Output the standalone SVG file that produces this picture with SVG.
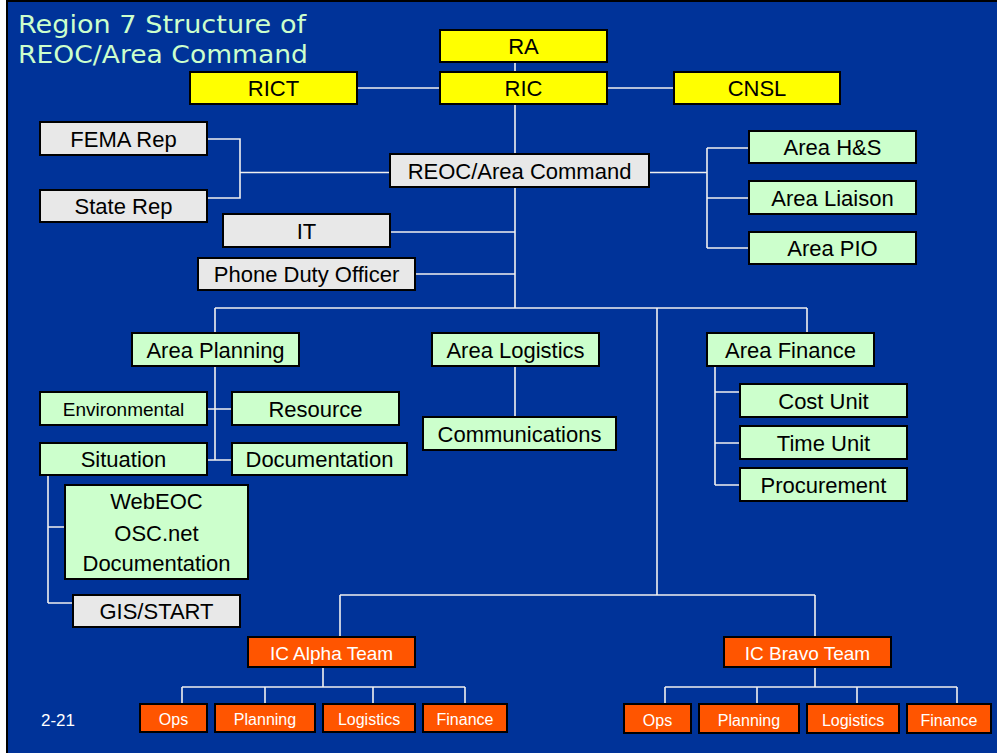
<svg xmlns="http://www.w3.org/2000/svg" width="997" height="753" viewBox="0 0 997 753">
<style>
.b{stroke:#000;stroke-width:2}
.y{fill:#ffff00}.g{fill:#e8e8e8}.l{fill:#ccffcc}.o{fill:#ff5500}
text{font-family:"Liberation Sans",Arial,sans-serif;text-anchor:middle;fill:#000}
.t22{font-size:22px}.t19{font-size:19px}.t16{font-size:16px}
.w{fill:#fff}
#connectors path{stroke:#f0f0f0;stroke-width:1.6;fill:none}
</style>
<rect x="0" y="0" width="997" height="753" fill="#fff"/>
<rect x="7" y="1" width="992" height="754" fill="#003399" stroke="#000" stroke-width="2"/>
<g id="title" style="font-family:'DejaVu Sans',Verdana,sans-serif;font-size:24px;fill:#ccffcc">
<text x="18" y="33" style="text-anchor:start;fill:#ccffcc;font-family:'DejaVu Sans',Verdana,sans-serif" textLength="288" lengthAdjust="spacingAndGlyphs">Region 7 Structure of</text>
<text x="18" y="63" style="text-anchor:start;fill:#ccffcc;font-family:'DejaVu Sans',Verdana,sans-serif" textLength="290" lengthAdjust="spacingAndGlyphs">REOC/Area Command</text>
</g>
<g id="connectors">
<path d="M515 62V72M357 88H440M607 88H674M515 104V154"/>
<path d="M207 139H240V198H207M240 172.5H390"/>
<path d="M649 172.5H707M707 148V248M707 148H749M707 198H749M707 248H749"/>
<path d="M515 187V308M390 232H515M415 274H515"/>
<path d="M215 308H807M215 308V333M215 366V460M207 409H232M207 460H232"/>
<path d="M515 366V417M807 308V333"/>
<path d="M715 366V485M715 392H740M715 443H740M715 485H740"/>
<path d="M48 475V603M48 527H65M48 603H73"/>
<path d="M657 308V595M340 595H815M340 595V637M815 595V637"/>
<path d="M323 667V687M182 687H465M182 687V704M265 687V704M373 687V704M465 687V704"/>
<path d="M815 667V687M665 687H957M665 687V704M757 687V704M857 687V704M957 687V704"/>
</g>
<g id="ra"><rect class="b y" x="440" y="30" width="167" height="32"/><text class="t22" x="523.5" y="54">RA</text></g>
<g id="rict"><rect class="b y" x="190" y="72" width="167" height="32"/><text class="t22" x="273.5" y="96">RICT</text></g>
<g id="ric"><rect class="b y" x="440" y="72" width="167" height="32"/><text class="t22" x="523.5" y="96">RIC</text></g>
<g id="cnsl"><rect class="b y" x="674" y="72" width="166" height="32"/><text class="t22" x="757" y="96">CNSL</text></g>
<g id="fema"><rect class="b g" x="40" y="122" width="167" height="33"/><text class="t22" x="123.5" y="147">FEMA Rep</text></g>
<g id="state"><rect class="b g" x="40" y="190" width="167" height="32"/><text class="t22" x="123.5" y="214">State Rep</text></g>
<g id="reoc"><rect class="b g" x="390" y="154" width="259" height="33"/><text class="t22" x="519.5" y="179">REOC/Area Command</text></g>
<g id="it"><rect class="b g" x="223" y="214" width="167" height="33"/><text class="t22" x="306.5" y="239">IT</text></g>
<g id="phone"><rect class="b g" x="198" y="258" width="217" height="32"/><text class="t22" x="306.5" y="282">Phone Duty Officer</text></g>
<g id="hs"><rect class="b l" x="749" y="131" width="167" height="32"/><text class="t22" x="832.5" y="155">Area H&amp;S</text></g>
<g id="liaison"><rect class="b l" x="749" y="181" width="167" height="33"/><text class="t22" x="832.5" y="206">Area Liaison</text></g>
<g id="pio"><rect class="b l" x="749" y="232" width="167" height="32"/><text class="t22" x="832.5" y="256">Area PIO</text></g>
<g id="planning"><rect class="b l" x="132" y="333" width="167" height="33"/><text class="t22" x="215.5" y="358">Area Planning</text></g>
<g id="logistics"><rect class="b l" x="432" y="333" width="167" height="33"/><text class="t22" x="515.5" y="358">Area Logistics</text></g>
<g id="finance"><rect class="b l" x="707" y="333" width="167" height="33"/><text class="t22" x="790.5" y="358">Area Finance</text></g>
<g id="environmental"><rect class="b l" x="40" y="392" width="167" height="33"/><text class="t19" x="123.5" y="416">Environmental</text></g>
<g id="resource"><rect class="b l" x="232" y="392" width="167" height="33"/><text class="t22" x="315.5" y="417">Resource</text></g>
<g id="situation"><rect class="b l" x="40" y="443" width="167" height="32"/><text class="t22" x="123.5" y="467">Situation</text></g>
<g id="documentation"><rect class="b l" x="232" y="443" width="175" height="32"/><text class="t22" x="319.5" y="467">Documentation</text></g>
<g id="communications"><rect class="b l" x="423" y="417" width="193" height="33"/><text class="t22" x="519.5" y="442">Communications</text></g>
<g id="cost"><rect class="b l" x="740" y="384" width="167" height="33"/><text class="t22" x="823.5" y="409">Cost Unit</text></g>
<g id="time"><rect class="b l" x="740" y="426" width="167" height="33"/><text class="t22" x="823.5" y="451">Time Unit</text></g>
<g id="procurement"><rect class="b l" x="740" y="468" width="167" height="33"/><text class="t22" x="823.5" y="493">Procurement</text></g>
<g id="webeoc"><rect class="b l" x="65" y="485" width="183" height="94"/><text class="t22" x="156.5" y="509">WebEOC</text><text class="t22" x="156.5" y="540.5">OSC.net</text><text class="t22" x="156.5" y="571">Documentation</text></g>
<g id="gis"><rect class="b g" x="73" y="595" width="167" height="32"/><text class="t22" x="156.5" y="619">GIS/START</text></g>
<g id="alpha"><rect class="b o" x="248" y="637" width="167" height="30"/><text class="t19 w" x="331.5" y="660">IC Alpha Team</text></g>
<g id="bravo"><rect class="b o" x="724" y="637" width="167" height="30"/><text class="t19 w" x="807.5" y="660">IC Bravo Team</text></g>
<g id="a-ops"><rect class="b o" x="140" y="704" width="67" height="28"/><text class="t16 w" x="173.5" y="725">Ops</text></g>
<g id="a-planning"><rect class="b o" x="215" y="704" width="100" height="28"/><text class="t16 w" x="265" y="725">Planning</text></g>
<g id="a-logistics"><rect class="b o" x="323" y="704" width="92" height="28"/><text class="t16 w" x="369" y="725">Logistics</text></g>
<g id="a-finance"><rect class="b o" x="423" y="704" width="84" height="28"/><text class="t16 w" x="465" y="725">Finance</text></g>
<g id="b-ops"><rect class="b o" x="624" y="704" width="67" height="29"/><text class="t16 w" x="657.5" y="725.5">Ops</text></g>
<g id="b-planning"><rect class="b o" x="699" y="704" width="100" height="29"/><text class="t16 w" x="749" y="725.5">Planning</text></g>
<g id="b-logistics"><rect class="b o" x="807" y="704" width="92" height="29"/><text class="t16 w" x="853" y="725.5">Logistics</text></g>
<g id="b-finance"><rect class="b o" x="907" y="704" width="84" height="29"/><text class="t16 w" x="949" y="725.5">Finance</text></g>
<text x="41" y="726" style="text-anchor:start;font-size:17px;fill:#fff">2-21</text>
</svg>
